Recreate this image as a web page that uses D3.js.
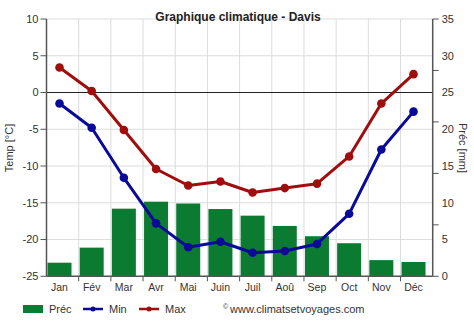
<!DOCTYPE html>
<html><head><meta charset="utf-8">
<script src="https://cdn.jsdelivr.net/npm/d3@7"></script>
<style>body{margin:0;background:#fff;} text{font-family:"Liberation Sans",Arial,sans-serif;}</style>
</head><body>
<svg id="c" width="474" height="331"></svg>
<script>
const months = ["Jan","Fév","Mar","Avr","Mai","Juin","Juil","Aoû","Sep","Oct","Nov","Déc"];
const precip = [1.85, 3.9, 9.2, 10.15, 9.9, 9.15, 8.25, 6.85, 5.45, 4.5, 2.2, 1.95];
const tMin = [-1.5, -4.8, -11.6, -17.8, -21.05, -20.3, -21.8, -21.55, -20.6, -16.5, -7.75, -2.6];
const tMax = [3.4, 0.2, -5.1, -10.4, -12.65, -12.1, -13.6, -13.0, -12.4, -8.7, -1.5, 2.5];
const tempTicks = [10, 5, 0, -5, -10, -15, -20, -25];
const precLabelTicks = [0, 5, 10, 15, 20, 25, 30, 35];
const precMarkTicks = [0, 7, 14, 21, 28, 35];

const svg = d3.select("#c");
const L = 46.5, R = 432.7, T = 19, B = 276.3;
const x = d3.scaleBand().domain(months).range([L, R]).padding(0);
const yT = d3.scaleLinear().domain([-25, 10]).range([B, T]);
const yP = d3.scaleLinear().domain([0, 35]).range([B, T]);
const cx = m => x(m) + 13;

const green = "#0b7b31", blue = "#0a0a9a", red = "#a00d0d", gridC = "#dcdcdc", axisC = "#555";

// grid
svg.append("g").selectAll("line").data(tempTicks).join("line")
  .attr("x1", L).attr("x2", R).attr("y1", d => yT(d)).attr("y2", d => yT(d))
  .attr("stroke", gridC).attr("stroke-width", 1);
svg.append("g").selectAll("line").data(months.slice(1)).join("line")
  .attr("x1", d => x(d)).attr("x2", d => x(d)).attr("y1", T).attr("y2", B)
  .attr("stroke", gridC).attr("stroke-width", 1);

// bars
svg.append("g").selectAll("rect").data(precip).join("rect")
  .attr("x", (d, i) => x(months[i]) + 1).attr("width", 24)
  .attr("y", d => yP(d)).attr("height", d => yP(0) - yP(d))
  .attr("fill", green);

// zero line
svg.append("line").attr("x1", L).attr("x2", R).attr("y1", yT(0)).attr("y2", yT(0))
  .attr("stroke", "#222").attr("stroke-width", 1.2);

// lines
function series(data, color) {
  const line = d3.line().x((d, i) => cx(months[i])).y(d => yT(d));
  svg.append("path").datum(data).attr("d", line).attr("fill", "none")
    .attr("stroke", color).attr("stroke-width", 3).attr("stroke-linejoin", "round");
  svg.append("g").selectAll("circle").data(data).join("circle")
    .attr("cx", (d, i) => cx(months[i])).attr("cy", d => yT(d)).attr("r", 4.3).attr("fill", color);
}
series(tMin, blue);
series(tMax, red);

// left axis
const gL = svg.append("g").attr("transform", `translate(${L},0)`);
gL.append("line").attr("y1", T).attr("y2", B).attr("stroke", axisC).attr("stroke-width", 1.5);
gL.selectAll(".tk").data(tempTicks).join("line").attr("class", "tk")
  .attr("x1", -6).attr("x2", 0).attr("y1", d => yT(d)).attr("y2", d => yT(d)).attr("stroke", axisC);
gL.selectAll("text").data(tempTicks).join("text")
  .attr("x", -8).attr("y", d => yT(d)).attr("dy", "0.35em").attr("text-anchor", "end")
  .attr("font-size", 11).attr("fill", "#333").text(d => d);

// right axis
const gR = svg.append("g").attr("transform", `translate(${R},0)`);
gR.append("line").attr("y1", T).attr("y2", B).attr("stroke", axisC).attr("stroke-width", 1.5);
gR.selectAll(".tk").data(precMarkTicks).join("line").attr("class", "tk")
  .attr("x1", 0).attr("x2", 6).attr("y1", d => yP(d)).attr("y2", d => yP(d)).attr("stroke", axisC);
gR.selectAll("text").data(precLabelTicks).join("text")
  .attr("x", 9).attr("y", d => yP(d)).attr("dy", "0.35em").attr("text-anchor", "start")
  .attr("font-size", 11).attr("fill", "#333").text(d => d);

// bottom axis
const gB = svg.append("g");
gB.append("line").attr("x1", L).attr("x2", R).attr("y1", B).attr("y2", B).attr("stroke", axisC).attr("stroke-width", 1.5);
gB.selectAll(".tk").data(months.slice(1)).join("line").attr("class", "tk")
  .attr("x1", d => x(d)).attr("x2", d => x(d)).attr("y1", B).attr("y2", B + 5).attr("stroke", axisC);
gB.selectAll("text").data(months).join("text")
  .attr("x", d => cx(d)).attr("y", B + 15).attr("text-anchor", "middle")
  .attr("font-size", 10.5).attr("fill", "#333").text(d => d);

// title & axis labels
svg.append("text").attr("x", 238).attr("y", 21).attr("text-anchor", "middle")
  .attr("font-size", 12).attr("font-weight", "bold").attr("fill", "#222").text("Graphique climatique - Davis");
svg.append("text").attr("transform", "translate(13,148) rotate(-90)").attr("text-anchor", "middle")
  .attr("font-size", 11).attr("fill", "#333").text("Temp [°C]");
svg.append("text").attr("transform", "translate(459,148) rotate(90)").attr("text-anchor", "middle")
  .attr("font-size", 11).attr("fill", "#333").text("Préc [mm]");

// legend
const lg = svg.append("g");
lg.append("rect").attr("x", 23).attr("y", 305).attr("width", 20).attr("height", 8).attr("fill", green);
lg.append("text").attr("x", 49).attr("y", 313).attr("font-size", 11).attr("fill", "#333").text("Préc");
[[83, blue, "Min"], [139, red, "Max"]].forEach(([lx, c, t]) => {
  lg.append("line").attr("x1", lx).attr("x2", lx + 20).attr("y1", 309).attr("y2", 309).attr("stroke", c).attr("stroke-width", 2.5);
  lg.append("circle").attr("cx", lx + 10).attr("cy", 309).attr("r", 2.5).attr("fill", c);
  lg.append("text").attr("x", lx + 26).attr("y", 313).attr("font-size", 11).attr("fill", "#333").text(t);
});
lg.append("text").attr("x", 223).attr("y", 309).attr("font-size", 7).attr("fill", "#333").text("©");
lg.append("text").attr("x", 230).attr("y", 313).attr("font-size", 11).attr("fill", "#333").text("www.climatsetvoyages.com");
</script>
</body></html>
